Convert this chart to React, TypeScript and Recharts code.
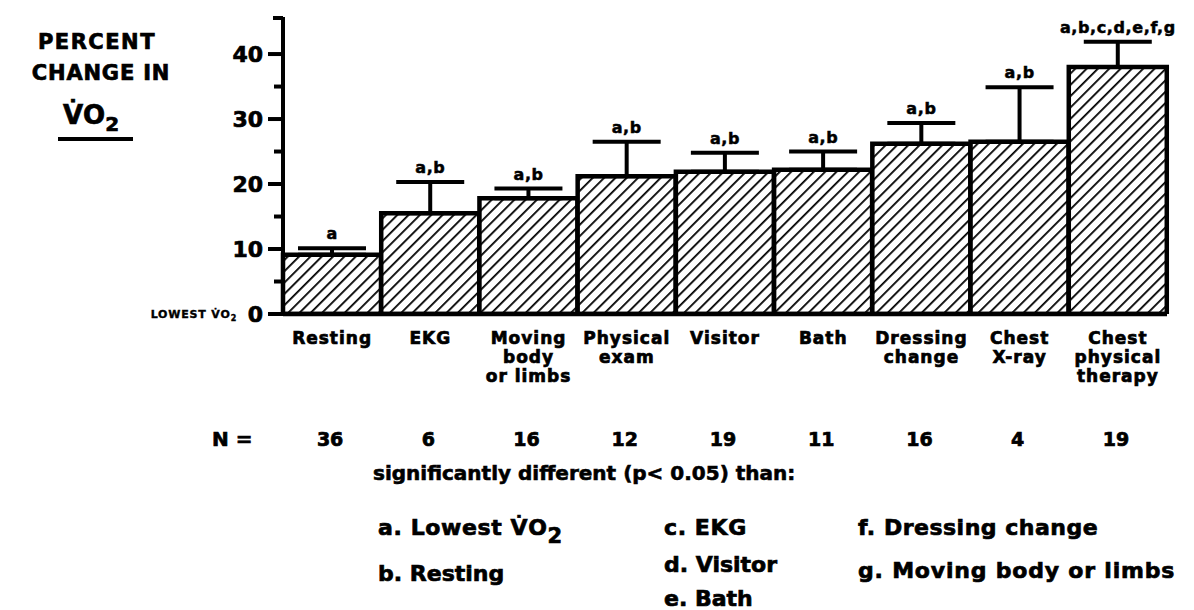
import React from 'react';
import { ComposedChart, Bar, Line, XAxis, YAxis, ErrorBar, LabelList } from 'recharts';

// values
const categories = [
  'Resting',
  'EKG',
  'Moving\nbody\nor limbs',
  'Physical\nexam',
  'Visitor',
  'Bath',
  'Dressing\nchange',
  'Chest\nX-ray',
  'Chest\nphysical\ntherapy',
];
const meanChange = [9.1, 15.5, 17.8, 21.2, 21.9, 22.2, 26.2, 26.5, 38.0];
const upperError = [1.0, 4.8, 1.5, 5.3, 2.9, 2.8, 3.2, 8.4, 3.9];
const sampleSizes = [36, 6, 16, 12, 19, 11, 16, 4, 19];
const significance = ['a', 'a,b', 'a,b', 'a,b', 'a,b', 'a,b', 'a,b', 'a,b', 'a,b,c,d,e,f,g'];
const yTicks = [0, 5, 10, 15, 20, 25, 30, 35, 40];
const Y_MAX = 45.7;

const FONT = '"DejaVu Sans", sans-serif';
// the scan is heavy and blotchy, a thin outline thickens the glyphs
const heavy = { fontFamily: FONT, fontWeight: 'bold' as const, fill: '#000', stroke: '#000', strokeWidth: 0.7 };

const data = categories.map((name, i) => ({
  name,
  mean: meanChange[i],
  err: [0, upperError[i]],
  top: meanChange[i] + upperError[i],
  n: sampleSizes[i],
  sig: significance[i],
}));

function YTick(props: any) {
  const { x, y, payload } = props;
  const v = payload.value;
  if (v === Y_MAX) {
    return <line x1={x - 10} y1={y + 1} x2={x} y2={y + 1} stroke="#000" strokeWidth={4} />;
  }
  const major = v % 10 === 0;
  return (
    <g>
      <line x1={x - (major ? 15 : 9)} y1={y} x2={x} y2={y} stroke="#000" strokeWidth={4} />
      {major && (
        <text x={x - 20} y={y} dy="0.36em" textAnchor="end" fontSize={22} {...heavy}>
          {v}
        </text>
      )}
      {v === 0 && (
        <text x={x - 46} y={y} dy="0.36em" textAnchor="end" fontSize={11} letterSpacing={0.8} {...heavy} strokeWidth={0.4}>
          LOWEST V̇O<tspan dy="3" fontSize={8}>2</tspan>
        </text>
      )}
    </g>
  );
}

function XTick(props: any) {
  const { x, y, payload, index } = props;
  const lines = String(payload.value).split('\n');
  return (
    <g>
      {lines.map((t, i) => (
        <text key={i} x={x} y={y + 30 + i * 19} textAnchor="middle" fontSize={17} letterSpacing={1} {...heavy}>
          {t}
        </text>
      ))}
      <text x={x - 2} y={y + 132} textAnchor="middle" fontSize={19} {...heavy}>
        {sampleSizes[index]}
      </text>
    </g>
  );
}

function SigLabel(props: any) {
  const { x, y, value } = props;
  return (
    <text x={x} y={y - 9} textAnchor="middle" fontSize={16} letterSpacing={0.6} {...heavy} strokeWidth={0.5}>
      {value}
    </text>
  );
}

export default function App() {
  return (
    <div style={{ position: 'absolute', left: 0, top: 0, width: 1194, height: 610, background: '#fff' }}>
      <ComposedChart
        width={1194}
        height={610}
        data={data}
        margin={{ top: 17, right: 27, bottom: 0, left: 0 }}
        barCategoryGap={0}
        barGap={0}
      >
        <defs>
          <pattern id="hatch" width="8" height="8" patternUnits="userSpaceOnUse" patternTransform="rotate(45)">
            <rect width="8" height="8" fill="#fff" />
            <line x1="0" y1="0" x2="0" y2="8" stroke="#000" strokeWidth="3.6" />
          </pattern>
        </defs>
        <XAxis
          dataKey="name"
          height={296}
          interval={0}
          tick={<XTick />}
          tickLine={false}
          tickSize={0}
          tickMargin={0}
          axisLine={{ stroke: '#000', strokeWidth: 4.5 }}
        />
        <YAxis
          width={283}
          domain={[0, Y_MAX]}
          ticks={[...yTicks, Y_MAX]}
          interval={0}
          tick={<YTick />}
          tickLine={false}
          tickSize={0}
          tickMargin={0}
          axisLine={{ stroke: '#000', strokeWidth: 4 }}
          allowDataOverflow
        />
        <Bar dataKey="mean" fill="url(#hatch)" stroke="#000" strokeWidth={4.5} isAnimationActive={false}>
          <ErrorBar dataKey="err" width={34} strokeWidth={4} stroke="#000" direction="y" />
        </Bar>
        <Line dataKey="top" stroke="none" dot={false} activeDot={false} isAnimationActive={false}>
          <LabelList dataKey="sig" content={SigLabel} />
        </Line>
      </ComposedChart>

      <svg width={1194} height={610} style={{ position: 'absolute', left: 0, top: 0, pointerEvents: 'none' }}>
        <text x={97} y={49} textAnchor="middle" fontSize={21} letterSpacing={1.5} {...heavy}>PERCENT</text>
        <text x={101} y={80} textAnchor="middle" fontSize={21} letterSpacing={0.8} {...heavy}>CHANGE IN</text>
        <text x={63} y={124} fontSize={26} {...heavy}>
          V̇O<tspan dy="7" fontSize={20}>2</tspan>
        </text>
        <line x1={58} y1={139} x2={133} y2={139} stroke="#000" strokeWidth={4} />

        <text x={212} y={446} fontSize={20} {...heavy}>N =</text>

        <text x={373} y={480} fontSize={20} {...heavy} strokeWidth={0.6}>significantly different (p&lt; 0.05) than:</text>
        <text x={378} y={535} fontSize={22} letterSpacing={0.6} {...heavy}>
          a. Lowest V̇O<tspan dy="8" fontSize={21}>2</tspan>
        </text>
        <text x={378} y={581} fontSize={22} {...heavy}>b. Resting</text>
        <text x={664} y={535} fontSize={22} letterSpacing={0.6} {...heavy}>c. EKG</text>
        <text x={664} y={572} fontSize={22} {...heavy}>d. Visitor</text>
        <text x={664} y={606} fontSize={22} {...heavy}>e. Bath</text>
        <text x={858} y={535} fontSize={22} letterSpacing={0.5} {...heavy}>f. Dressing change</text>
        <text x={858} y={578} fontSize={22} letterSpacing={0.8} {...heavy}>g. Moving body or limbs</text>
      </svg>
    </div>
  );
}
